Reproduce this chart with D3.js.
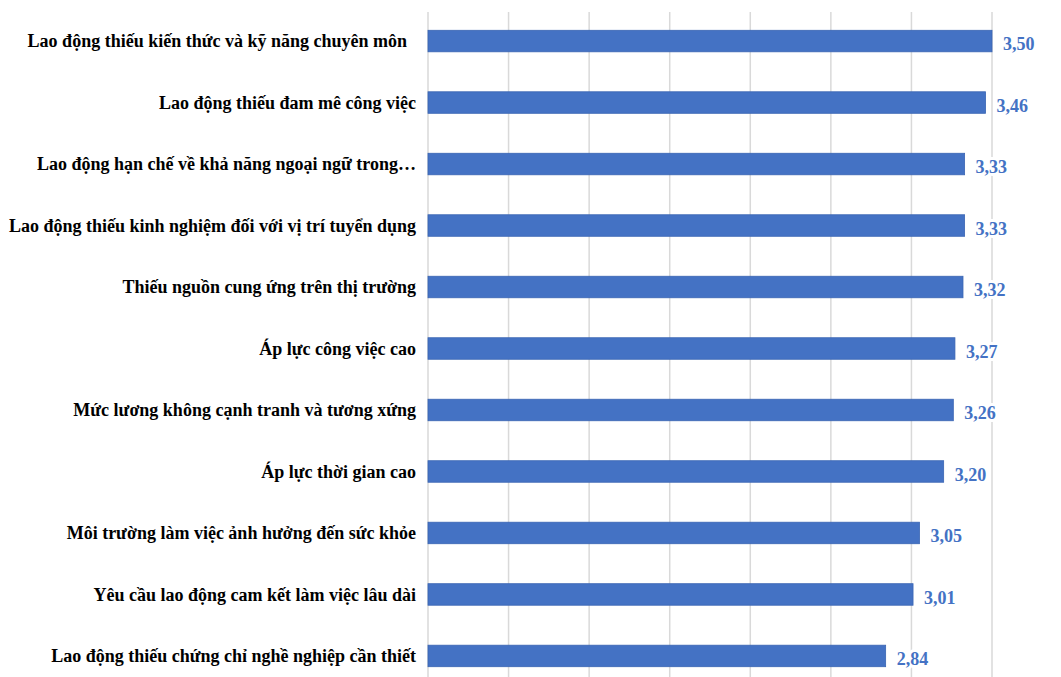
<!DOCTYPE html>
<html>
<head>
<meta charset="utf-8">
<script src="https://cdn.jsdelivr.net/npm/d3@7"></script>
<style>
  body { margin: 0; background: #fff; }
</style>
</head>
<body>
<svg id="chart" width="1061" height="677"></svg>
<script>
var categories = [
  'Lao động thiếu kiến  thức và kỹ năng chuyên môn\u00a0\u00a0',
  'Lao động thiếu đam mê công việc',
  'Lao động hạn chế về khả năng ngoại ngữ trong…',
  'Lao động thiếu kinh  nghiệm đối với vị trí tuyển dụng',
  'Thiếu nguồn cung ứng trên thị trường',
  'Áp lực công việc cao',
  'Mức lương không cạnh tranh và tương xứng',
  'Áp lực thời gian cao',
  'Môi trường làm việc ảnh hưởng đến sức khỏe',
  'Yêu cầu lao động cam kết làm việc lâu dài',
  'Lao động thiếu chứng chỉ nghề nghiệp cần thiết'
]
var values = [3.50, 3.46, 3.33, 3.33, 3.32, 3.27, 3.26, 3.20, 3.05, 3.01, 2.84]
var xDomain = [0, 3.5]

var serif = "'Liberation Serif', 'Times New Roman', serif"
var svg = d3.select('#chart')

var x = d3.scaleLinear().domain(xDomain).range([428, 992])
var y = d3.scaleBand().domain(categories).range([10, 687]).paddingInner(0.65).paddingOuter(0.33)

// vertical gridlines
svg.append('g')
  .selectAll('line')
  .data(x.ticks(7))
  .join('line')
  .attr('x1', d => x(d))
  .attr('x2', d => x(d))
  .attr('y1', 12)
  .attr('y2', 677)
  .style('stroke', '#d9d9d9')
  .style('stroke-width', 1.5)

// bars
svg.append('g')
  .selectAll('rect')
  .data(values)
  .join('rect')
  .attr('x', x(0))
  .attr('y', (d, i) => y(categories[i]))
  .attr('width', d => x(d) - x(0))
  .attr('height', y.bandwidth())
  .style('fill', '#4472c4')
  .style('stroke', '#3a65b3')
  .style('stroke-width', 0.8)

// category labels
svg.append('g')
  .selectAll('text')
  .data(categories)
  .join('text')
  .attr('x', 416)
  .attr('y', d => y(d) + y.bandwidth() / 2)
  .attr('dy', '0.35em')
  .attr('text-anchor', 'end')
  .style('font-family', serif)
  .style('font-weight', 'bold')
  .style('font-size', '18px')
  .style('fill', '#000')
  .text(d => d)

// value labels
var fmt = d => d.toFixed(2).replace('.', ',')
svg.append('g')
  .selectAll('text')
  .data(values)
  .join('text')
  .attr('x', d => x(d) + 11)
  .attr('y', (d, i) => y(categories[i]) + y.bandwidth() / 2 + 3)
  .attr('dy', '0.35em')
  .style('font-family', serif)
  .style('font-weight', 'bold')
  .style('font-size', '18px')
  .style('fill', '#4472c4')
  .style('stroke', '#fff')
  .style('stroke-width', 6)
  .style('paint-order', 'stroke')
  .text(fmt)
</script>
</body>
</html>
